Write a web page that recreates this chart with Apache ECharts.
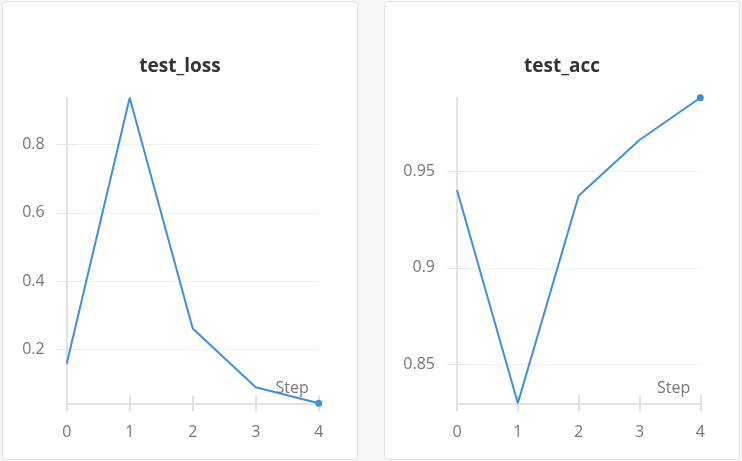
<!DOCTYPE html>
<html>
<head>
<meta charset="utf-8">
<title>test_loss / test_acc</title>
<style>
  html, body { margin: 0; padding: 0; background: #f7f7f7; }
  .card { position: absolute; top: 1px; width: 354px; height: 457px;
          background: #fff; border: 1px solid #e2e2e2; border-radius: 4px; }
  #main { position: absolute; left: 0; top: 0; width: 742px; height: 461px; }
</style>
</head>
<body>
    <div class="card" style="left: 2px;"></div>
    <div class="card" style="left: 384px;"></div>
    <div id="main"></div>

    <script src="https://cdn.jsdelivr.net/npm/echarts@6/dist/echarts.min.js"></script>

    <script type="text/javascript">
        var steps = [0, 1, 2, 3, 4];
        var testLoss = [0.159, 0.937, 0.262, 0.090, 0.043];
        var testAcc = [0.9405, 0.8296, 0.9375, 0.9665, 0.9885];
        var lossTicks = [0.2, 0.4, 0.6, 0.8];
        var accTicks = [0.85, 0.9, 0.95];
        var titles = ['test_loss', 'test_acc'];

        var font = '"Open Sans", sans-serif';
        var lineColor = '#3f90dc';
        var axisColor = '#e2e2e2';
        var labelColor = '#777';

        function pairs(values) {
            return steps.map(function (s, i) { return [s, values[i]]; });
        }

        var yValues = [testLoss, testAcc];
        var yTicks = [lossTicks, accTicks];

        var grids = [
            { left: 66.7, top: 97.7, width: 252, height: 305.6 },
            { left: 457, top: 97.7, width: 243.3, height: 305.6 }
        ];

        var xAxis = [], yAxis = [], series = [];
        for (var g = 0; g < 2; g++) {
            var lo = Math.min.apply(null, yValues[g]);
            var hi = Math.max.apply(null, yValues[g]);
            // main x axis, ticks below the line
            xAxis.push({
                type: 'value', gridIndex: g, min: steps[0], max: steps[steps.length - 1], interval: 1,
                name: 'Step', nameLocation: 'end', nameGap: -10,
                nameTextStyle: { align: 'right', verticalAlign: 'bottom', color: labelColor,
                                 fontFamily: font, fontSize: 16, padding: [0, 0, 7, 0] },
                axisLine: { lineStyle: { color: axisColor, width: 2 } },
                axisTick: { show: true, length: 8, lineStyle: { color: axisColor, width: 2 } },
                axisLabel: { color: labelColor, fontFamily: font, fontSize: 16, margin: 21 },
                splitLine: { show: false }
            });
            // second x axis, only the ticks above the line
            xAxis.push({
                type: 'value', gridIndex: g, position: 'bottom', min: steps[0], max: steps[steps.length - 1], interval: 1,
                axisLine: { show: false },
                axisTick: { show: true, inside: true, length: 8, lineStyle: { color: axisColor, width: 2 } },
                axisLabel: { show: false },
                splitLine: { show: false }
            });
            yAxis.push({
                type: 'value', gridIndex: g, min: lo, max: hi,
                axisLine: { show: true, lineStyle: { color: axisColor, width: 2 } },
                axisTick: { show: true, length: 10, customValues: yTicks[g], lineStyle: { color: '#e6e6e6' } },
                axisLabel: { color: labelColor, fontFamily: font, fontSize: 16, margin: 22,
                             customValues: yTicks[g] },
                splitLine: { show: true, lineStyle: { color: '#f1f1f1' } }
            });
            yAxis.push({
                type: 'value', gridIndex: g, position: 'left', min: lo, max: hi,
                axisLine: { show: false },
                axisTick: { show: true, inside: true, length: 10, customValues: yTicks[g],
                            lineStyle: { color: '#e6e6e6' } },
                axisLabel: { show: false },
                splitLine: { show: false }
            });
            series.push({
                type: 'line',
                xAxisIndex: g * 2, yAxisIndex: g * 2,
                data: pairs(yValues[g]),
                symbol: 'circle',
                showAllSymbol: true,
                symbolSize: function (val, params) {
                    return params.dataIndex === steps.length - 1 ? 7 : 0;
                },
                lineStyle: { color: lineColor, width: 2 },
                itemStyle: { color: lineColor },
                clip: false
            });
        }

        var myChart = echarts.init(document.getElementById('main'));
        var option = {
            animation: false,
            title: [
                { text: titles[0], left: 180, top: 57, textAlign: 'center', padding: 0,
                  textStyle: { fontFamily: font, fontSize: 19, fontWeight: 'bold', color: '#333' } },
                { text: titles[1], left: 562, top: 57, textAlign: 'center', padding: 0,
                  textStyle: { fontFamily: font, fontSize: 19, fontWeight: 'bold', color: '#333' } }
            ],
            grid: grids,
            xAxis: xAxis,
            yAxis: yAxis,
            series: series
        };
        myChart.setOption(option);
    </script>
</body>
</html>
